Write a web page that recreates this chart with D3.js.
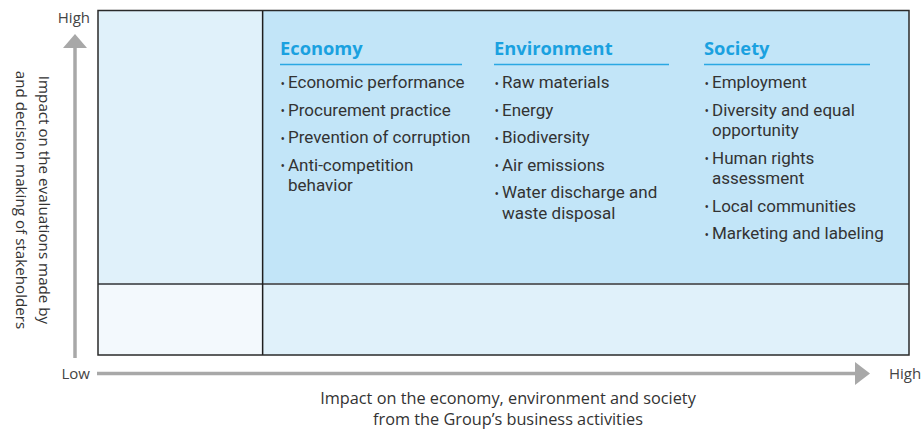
<!DOCTYPE html>
<html><head><meta charset="utf-8">
<script src="https://cdn.jsdelivr.net/npm/d3@7"></script>
<style>
html,body{margin:0;padding:0;background:#fff;}
svg{display:block;font-family:"Open Sans",sans-serif;}
</style></head>
<body><svg id="chart" width="923" height="429"></svg>
<script>
// ---- data ----
const categories = ["Economy", "Environment", "Society"];
const economyItems = [["Economic performance"], ["Procurement practice"], ["Prevention of corruption"], ["Anti-competition", "behavior"]];
const environmentItems = [["Raw materials"], ["Energy"], ["Biodiversity"], ["Air emissions"], ["Water discharge and", "waste disposal"]];
const societyItems = [["Employment"], ["Diversity and equal", "opportunity"], ["Human rights", "assessment"], ["Local communities"], ["Marketing and labeling"]];
const itemsByCategory = [economyItems, environmentItems, societyItems];
const axisLevels = ["Low", "High"];
const xTitle = ["Impact on the economy, environment and society", "from the Group\u2019s business activities"];
const yTitle = ["Impact on the evaluations made by", "and decision making of stakeholders"];
// quadrants in axis units (0 = low, 1 = high)
const splitXVal = 0.203, splitYVal = 0.206;
const quadrants = [
  {x0: 0, x1: splitXVal, y0: splitYVal, y1: 1, fill: "#e0f1fa"},
  {x0: splitXVal, x1: 1, y0: splitYVal, y1: 1, fill: "#c2e5f8"},
  {x0: 0, x1: splitXVal, y0: 0, y1: splitYVal, fill: "#f3f9fd"},
  {x0: splitXVal, x1: 1, y0: 0, y1: splitYVal, fill: "#e0f1fa"}
];

// ---- layout ----
const svg = d3.select("#chart");
const box = {left: 98, right: 909, top: 10.5, bottom: 355};
const x = d3.scaleLinear().domain([0, 1]).range([box.left, box.right]);
const y = d3.scaleLinear().domain([0, 1]).range([box.bottom, box.top]);

svg.selectAll("rect.q").data(quadrants).join("rect").attr("class", "q")
  .attr("x", d => x(d.x0)).attr("y", d => y(d.y1))
  .attr("width", d => x(d.x1) - x(d.x0))
  .attr("height", d => y(d.y0) - y(d.y1))
  .attr("fill", d => d.fill);

const splitX = x(splitXVal);
const splitY = y(splitYVal);
svg.append("line").attr("x1", box.left).attr("x2", box.right).attr("y1", splitY).attr("y2", splitY)
  .attr("stroke", "#5f6468").attr("stroke-width", 2);
svg.append("line").attr("x1", splitX).attr("x2", splitX).attr("y1", box.top).attr("y2", box.bottom)
  .attr("stroke", "#1e1e1e").attr("stroke-width", 1.5);
svg.append("rect").attr("x", box.left).attr("y", box.top)
  .attr("width", box.right - box.left).attr("height", box.bottom - box.top)
  .attr("fill", "none").attr("stroke", "#2a2a2a").attr("stroke-width", 1.5);

// columns
const colX = [280, 494, 704];
const colW = [182, 175, 166];
const headBase = 55, firstBase = 88, itemGap = 27.5, wrapGap = 20.5;
categories.forEach((cat, i) => {
  const g = svg.append("g");
  g.append("text").attr("x", colX[i]).attr("y", headBase).text(cat)
    .attr("fill", "#1aa1e0").attr("font-size", 18.3).attr("font-weight", 700);
  g.append("line").attr("x1", colX[i]).attr("x2", colX[i] + colW[i]).attr("y1", 64.5).attr("y2", 64.5)
    .attr("stroke", "#2aa8e3").attr("stroke-width", 1.5);
  let base = firstBase;
  itemsByCategory[i].forEach(lines => {
    g.append("text").attr("x", colX[i] + 0.5).attr("y", base - 0.5).text("\u2022")
      .attr("fill", "#333").attr("font-size", 12);
    const t = g.append("text").attr("x", colX[i] + 8).attr("y", base)
      .attr("fill", "#333").attr("font-size", 17).style("font-family", "Roboto, sans-serif");
    lines.forEach((ln, k) => {
      t.append("tspan").attr("x", colX[i] + 8).attr("dy", k === 0 ? 0 : wrapGap).text(ln);
    });
    base += (lines.length - 1) * wrapGap + itemGap;
  });
});

// axes arrows
const arrowColor = "#a8a8a8";
svg.append("line").attr("x1", 75).attr("x2", 75).attr("y1", 358).attr("y2", 46)
  .attr("stroke", arrowColor).attr("stroke-width", 3.5);
svg.append("path").attr("d", "M63,48 L75,34 L87,48 Z").attr("fill", arrowColor);
svg.append("line").attr("x1", 97).attr("x2", 857).attr("y1", 373.5).attr("y2", 373.5)
  .attr("stroke", arrowColor).attr("stroke-width", 3.5);
svg.append("path").attr("d", "M855,362 L870,373.5 L855,385 Z").attr("fill", arrowColor);

// axis level labels
const lab = {fill: "#444", size: 15};
svg.append("text").attr("x", 90).attr("y", 23).attr("text-anchor", "end").text(axisLevels[1])
  .attr("fill", lab.fill).attr("font-size", lab.size);
svg.append("text").attr("x", 90).attr("y", 378.5).attr("text-anchor", "end").text(axisLevels[0])
  .attr("fill", lab.fill).attr("font-size", lab.size);
svg.append("text").attr("x", 889).attr("y", 378.5).text(axisLevels[1])
  .attr("fill", lab.fill).attr("font-size", lab.size);

// axis titles
const xt = svg.append("text").attr("x", 508).attr("y", 404).attr("text-anchor", "middle")
  .attr("fill", "#333").attr("font-size", 16.3);
xTitle.forEach((t, i) => {
  xt.append("tspan").attr("x", 508).attr("dy", i === 0 ? 0 : 21).text(t);
});
const yt = svg.append("text").attr("transform", "translate(39,200) rotate(90)")
  .attr("text-anchor", "middle").attr("fill", "#333").attr("font-size", 15.2);
yTitle.forEach((t, i) => {
  yt.append("tspan").attr("x", 0).attr("dy", i === 0 ? 0 : 23).text(t);
});
</script></body></html>
